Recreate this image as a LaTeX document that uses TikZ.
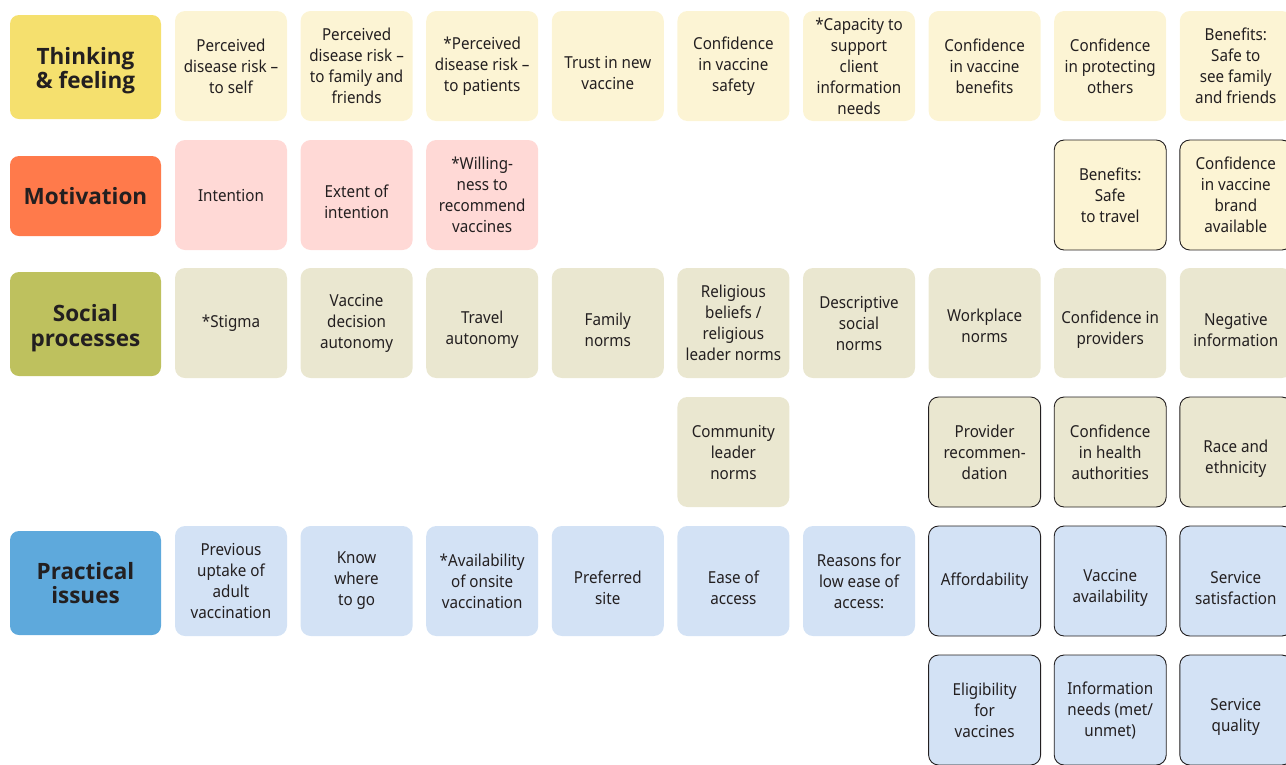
\documentclass[tikz,border=0pt]{standalone}
\usepackage{fontspec}
\setmainfont{Noto Sans}[FakeStretch=0.92]
\newfontfamily\catfont{Open Sans}
\definecolor{thinkcat}{HTML}{F5E06E}
\definecolor{thinkitem}{HTML}{FCF4D4}
\definecolor{motivcat}{HTML}{FF7A4B}
\definecolor{motivitem}{HTML}{FFD9D6}
\definecolor{socialcat}{HTML}{BEC15E}
\definecolor{socialitem}{HTML}{EAE7D0}
\definecolor{practcat}{HTML}{5EA9DC}
\definecolor{practitem}{HTML}{D3E2F5}
\definecolor{inkgray}{HTML}{231F20}
\tikzset{
    catbox/.style={rounded corners=9pt, minimum width=151pt, align=center,
        text=inkgray, inner sep=0pt,
        font=\catfont\bfseries\fontsize{22.5}{24.5}\selectfont},
    itembox/.style={rounded corners=10pt, minimum width=112pt, minimum height=110pt,
        align=center, text=inkgray, inner sep=0pt,
        font=\fontsize{16.5}{21}\selectfont},
    twoline/.style={text height=46.5pt},
    edged/.style={draw=inkgray, line width=0.9pt},
}
\begin{document}
\begin{tikzpicture}[x=1pt,y=-1pt]
    \useasboundingbox (0,0) rectangle (1286,764);
    \clip (0,0) rectangle (1286,764);
    % category labels
    \node[catbox, fill=thinkcat, minimum height=104pt, text height=49pt] (catthink) at (85.5,67) {Thinking\\\& feeling};
    \node[catbox, fill=motivcat, minimum height=80pt] (catmotiv) at (85.5,196) {Motivation};
    \node[catbox, fill=socialcat, minimum height=104pt, text height=50pt] (catsocial) at (85.5,324) {Social\\processes};
    \node[catbox, fill=practcat, minimum height=104pt] (catpract) at (85.5,583) {Practical\\issues};
    % thinking & feeling
    \node[itembox, fill=thinkitem] (think1) at (231,66) {Perceived\\disease risk --\\to self};
    \node[itembox, fill=thinkitem] (think2) at (356.6,66) {Perceived\\disease risk --\\to family and\\friends};
    \node[itembox, fill=thinkitem] (think3) at (482.2,66) {*Perceived\\disease risk --\\to patients};
    \node[itembox, twoline, fill=thinkitem] (think4) at (607.8,66) {Trust in new\\vaccine};
    \node[itembox, fill=thinkitem] (think5) at (733.4,66) {Confidence\\in vaccine\\safety};
    \node[itembox, fill=thinkitem] (think6) at (859,66) {*Capacity to\\support\\client\\information\\needs};
    \node[itembox, fill=thinkitem] (think7) at (984.6,66) {Confidence\\in vaccine\\benefits};
    \node[itembox, fill=thinkitem] (think8) at (1110.2,66) {Confidence\\in protecting\\others};
    \node[itembox, fill=thinkitem] (think9) at (1235.8,66) {Benefits:\\Safe to\\see family\\and friends};
    % motivation
    \node[itembox, fill=motivitem] (motiv1) at (231,195) {Intention};
    \node[itembox, twoline, fill=motivitem] (motiv2) at (356.6,195) {Extent of\\intention};
    \node[itembox, fill=motivitem] (motiv3) at (482.2,195) {*Willing-\\ness to\\recommend\\vaccines};
    \node[itembox, edged, fill=thinkitem] (motiv8) at (1110.2,195) {Benefits:\\Safe\\to travel};
    \node[itembox, edged, fill=thinkitem] (motiv9) at (1235.8,195) {Confidence\\in vaccine\\brand\\available};
    % social processes
    \node[itembox, fill=socialitem] (social1) at (231,323) {*Stigma};
    \node[itembox, fill=socialitem] (social2) at (356.6,323) {Vaccine\\decision\\autonomy};
    \node[itembox, twoline, fill=socialitem] (social3) at (482.2,323) {Travel\\autonomy};
    \node[itembox, twoline, fill=socialitem] (social4) at (607.8,323) {Family\\norms};
    \node[itembox, fill=socialitem] (social5) at (733.4,323) {Religious\\beliefs /\\religious\\leader norms};
    \node[itembox, fill=socialitem] (social6) at (859,323) {Descriptive\\social\\norms};
    \node[itembox, fill=socialitem, text height=39pt] (social7) at (984.6,323) {Workplace\\norms};
    \node[itembox, twoline, fill=socialitem] (social8) at (1110.2,323) {Confidence in\\providers};
    \node[itembox, twoline, fill=socialitem] (social9) at (1235.8,323) {Negative\\information};
    \node[itembox, fill=socialitem] (commun5) at (733.4,452) {Community\\leader\\norms};
    \node[itembox, edged, fill=socialitem] (commun7) at (984.6,452) {Provider\\recommen-\\dation};
    \node[itembox, edged, fill=socialitem] (commun8) at (1110.2,452) {Confidence\\in health\\authorities};
    \node[itembox, twoline, edged, fill=socialitem] (commun9) at (1235.8,452) {Race and\\ethnicity};
    % practical issues
    \node[itembox, fill=practitem] (pract1) at (231,581) {Previous\\uptake of\\adult\\vaccination};
    \node[itembox, fill=practitem] (pract2) at (356.6,581) {Know\\where\\to go};
    \node[itembox, fill=practitem] (pract3) at (482.2,581) {*Availability\\of onsite\\vaccination};
    \node[itembox, twoline, fill=practitem] (pract4) at (607.8,581) {Preferred\\site};
    \node[itembox, twoline, fill=practitem] (pract5) at (733.4,581) {Ease of\\access};
    \node[itembox, fill=practitem] (pract6) at (859,581) {Reasons for\\low ease of\\access:};
    \node[itembox, edged, fill=practitem] (pract7) at (984.6,581) {Affordability};
    \node[itembox, twoline, edged, fill=practitem] (pract8) at (1110.2,581) {Vaccine\\availability};
    \node[itembox, twoline, edged, fill=practitem] (pract9) at (1235.8,581) {Service\\satisfaction};
    \node[itembox, edged, fill=practitem] (access7) at (984.6,710) {Eligibility\\for\\vaccines};
    \node[itembox, edged, fill=practitem] (access8) at (1110.2,710) {Information\\needs (met/\\unmet)};
    \node[itembox, twoline, edged, fill=practitem] (access9) at (1235.8,710) {Service\\quality};
\end{tikzpicture}
\end{document}
